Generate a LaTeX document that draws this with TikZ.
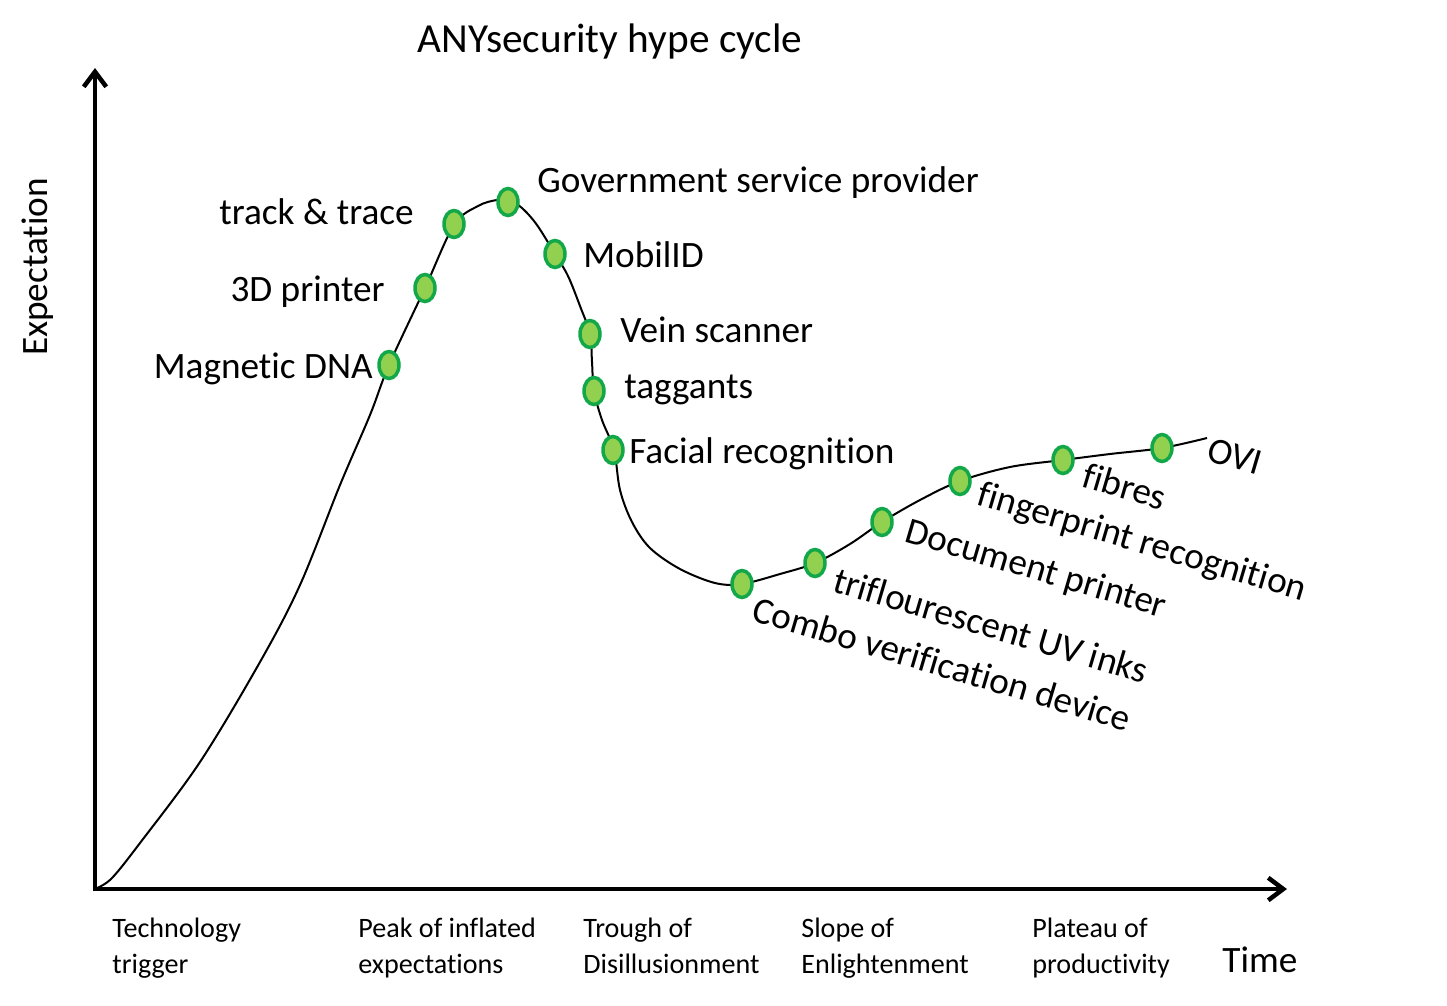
\documentclass[tikz,border=0pt]{standalone}
\usepackage{fontspec}
\setmainfont{Carlito}[Ligatures=CommonOff]
\usepackage{xcolor}
\usepackage{tikz}
\usetikzlibrary{arrows.meta,shapes.geometric}
\definecolor{HypeLime}{HTML}{92D050}
\definecolor{HypeGreen}{HTML}{12A84A}
\definecolor{HypeInk}{HTML}{000000}

\begin{document}
\begin{tikzpicture}[
  x=0.02cm,
  y=-0.02cm,
  every node/.style={font=\fontsize{21.2}{25}\selectfont, inner sep=0pt},
  hypedot/.style={ellipse, draw=HypeGreen, fill=HypeLime, line width=0.07cm, minimum width=0.40cm, minimum height=0.54cm},
  tiltlabel/.style={rotate=-16.5, anchor=base west},
  phase/.style={font=\fontsize{16}{20}\selectfont, align=left, anchor=north west},
  axisline/.style={line width=0.09cm, HypeInk, -{Straight Barb[length=0.3cm,width=0.45cm]}}
]
\useasboundingbox (0,0) rectangle (1447,1005);

\coordinate (origin) at (95,889);
\coordinate (ytip) at (95,68);
\coordinate (xtip) at (1287,889);
\draw[axisline] ([yshift=-0.045cm]origin) -- (ytip);
\draw[axisline] ([xshift=-0.045cm]origin) -- (xtip);

\draw[line width=0.04cm, HypeInk] plot[smooth, tension=0.55] coordinates {
  (97,888) (112,878) (140,843) (200,762) (260,662) (300,585) (340,485)
  (370,415) (389,365) (425,288) (454,225) (478,206) (497,200) (510,201)
  (522,208) (537,225) (555,254) (568,276) (580,306) (590,334) (592,362)
  (594,391) (602,420) (614,450) (620,490) (632,522) (650,548) (680,569)
  (715,583) (742,584) (780,574) (815,563) (850,544) (882,522) (920,500)
  (960,481) (1010,467) (1063,460) (1110,454) (1162,448) (1207,438)};

\node[hypedot] (dMag) at (389,365) {};
\node[hypedot] (dPrint3d) at (425,288) {};
\node[hypedot] (dTrack) at (454,224) {};
\node[hypedot] (dGov) at (508,202) {};
\node[hypedot] (dMobil) at (555,254) {};
\node[hypedot] (dVein) at (590,334) {};
\node[hypedot] (dTaggant) at (594,391) {};
\node[hypedot] (dFace) at (613,450) {};
\node[hypedot] (dCombo) at (742,584) {};
\node[hypedot] (dUvInk) at (815,563) {};
\node[hypedot] (dDocPrint) at (882,522) {};
\node[hypedot] (dFinger) at (960,481) {};
\node[hypedot] (dFibre) at (1063,460) {};
\node[hypedot] (dOvi) at (1162,448) {};

\node[anchor=base east] (tMag) at (373,378) {Magnetic DNA};
\node[anchor=base east] (tPrint3d) at (385,301) {3D printer};
\node[anchor=base east] (tTrack) at (414,224) {track \& trace};
\node[anchor=base west] (tGov) at (537,192) {Government service provider};
\node[anchor=base west] (tMobil) at (583,267) {MobilID};
\node[anchor=base west] (tVein) at (620,342) {Vein scanner};
\node[anchor=base west] (tTaggant) at (624,398) {taggants};
\node[anchor=base west] (tFace) at (629,463) {Facial recognition};

\node[tiltlabel] (tCombo) at (750,620) {Combo verification device};
\node[tiltlabel] (tUvInk) at (831,591) {triflourescent UV inks};
\node[tiltlabel] (tDocPrint) at (903,541) {Document printer};
\node[tiltlabel] (tFinger) at (975,504) {fingerprint recognition};
\node[tiltlabel] (tFibre) at (1080,486) {fibres};
\node[tiltlabel] (tOvi) at (1205,460) {OVI};

\node[phase] (pTrigger) at (112,918) {Technology\\trigger};
\node[phase] (pPeak) at (358,918) {Peak of inflated\\expectations};
\node[phase] (pTrough) at (583,918) {Trough of\\Disillusionment};
\node[phase] (pSlope) at (801,918) {Slope of\\Enlightenment};
\node[phase] (pPlateau) at (1032,918) {Plateau of\\productivity};
\node[anchor=base west] (tTime) at (1222,972) {Time};

\node[font=\fontsize{23.5}{28}\selectfont, anchor=base] (title) at (610,52) {ANYsecurity hype cycle};
\node[rotate=90, anchor=base] (yLabel) at (48,267) {Expectation};
\end{tikzpicture}
\end{document}
